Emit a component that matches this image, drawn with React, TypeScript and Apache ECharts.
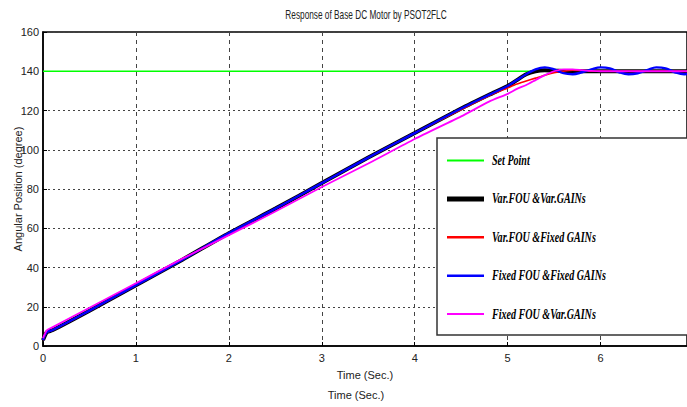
import React, { useEffect, useRef } from "react";
import * as echarts from "echarts";

const times = [0, 0.04, 0.1, 0.5, 1, 1.5, 2, 2.5, 3, 3.5, 4, 4.5, 4.8, 5, 5.1, 5.2, 5.3, 5.4, 5.5, 5.6, 5.7, 5.8, 5.9, 6.0, 6.1, 6.2, 6.3, 6.4, 6.5, 6.6, 6.7, 6.8, 6.9, 7.0];
const setPoint = times.map(() => 140);
const varFouVarGains = [3, 7, 8, 18, 31, 44, 57.5, 70, 83, 96, 108.5, 121, 128, 132.5, 135.5, 138.5, 140, 140.5, 140.3, 140.1, 140, 140, 140, 140, 140, 140, 140, 140, 140, 140, 140, 140, 140, 140];
const varFouFixedGains = [3, 7, 8, 18, 31, 44, 57.5, 70, 83, 96, 108.5, 120.5, 127.5, 131.5, 133.5, 135, 136.5, 138, 139.2, 140, 140.5, 140.3, 140, 140, 140, 140, 140, 140, 140, 140, 140, 140, 140, 140];
const fixedFouFixedGains = [3, 7, 8, 18, 31, 44, 57.5, 70, 83, 96, 108.5, 121, 128, 132.5, 135.5, 138.5, 141, 142, 141, 139, 138.5, 139.5, 141, 142, 141.5, 139.5, 138.5, 139, 140.5, 142, 141.5, 139.5, 138.5, 139];
const fixedFouVarGains = [4, 8, 9.5, 19.5, 32, 44.5, 56.5, 68.5, 81, 93, 105.5, 117, 124.5, 128.5, 131, 133, 135.5, 138, 140, 141, 141, 140.6, 140.2, 140, 140, 140, 140, 140, 140, 140, 140, 140, 140, 140];

const seriesNames = ["Set Point", "Var.FOU &Var.GAINs", "Var.FOU &Fixed GAINs", "Fixed FOU &Fixed GAINs", "Fixed FOU &Var.GAINs"];
const seriesValues = [setPoint, varFouVarGains, varFouFixedGains, fixedFouFixedGains, fixedFouVarGains];
const seriesColors = ["#00ff00", "#000000", "#ff0000", "#0000ff", "#ff00ff"];
const seriesWidths = [1.6, 4, 1.6, 2.4, 1.8];
const legendWidths = [2, 5, 2.5, 2.5, 2];

const sans = "'Liberation Sans', Arial, sans-serif";
const serif = "'Liberation Serif', 'Times New Roman', serif";

export default function App() {
  const ref = useRef<HTMLDivElement>(null);
  useEffect(() => {
    document.body.style.margin = "0";
    const chart = echarts.init(ref.current!, null, { renderer: "svg" });
    const legendTop = 160.5;
    const legendStep = 38.4;
    const legendGraphics: any[] = [];
    seriesNames.forEach((n, i) => {
      const y = legendTop + i * legendStep;
      legendGraphics.push({
        type: "line",
        z: 11,
        shape: { x1: 447, y1: y, x2: 484, y2: y },
        style: { stroke: seriesColors[i], lineWidth: legendWidths[i] },
      });
      legendGraphics.push({
        type: "text",
        z: 11,
        x: 492,
        y: y,
        scaleX: 0.72,
        style: { text: n, fontFamily: serif, fontStyle: "italic", fontWeight: "bold", fontSize: 14, fill: "#000", align: "left", verticalAlign: "middle" },
      });
    });
    chart.setOption({
      animation: false,
      backgroundColor: "#ffffff",
      grid: { left: 43, right: 0, top: 32, bottom: 61, show: true, borderColor: "#000", borderWidth: 1.5, outerBoundsMode: "none", containLabel: false },
      xAxis: {
        type: "value",
        min: 0,
        max: 6.93,
        interval: 1,
        name: "Time (Sec.)",
        nameLocation: "middle",
        nameGap: 23,
        nameMoveOverlap: false,
        nameTextStyle: { fontFamily: sans, fontSize: 11, color: "#222" },
        axisLine: { lineStyle: { color: "#000", width: 1.5 } },
        axisTick: { inside: true, length: 4, lineStyle: { color: "#000" } },
        axisLabel: { fontFamily: sans, fontSize: 11, color: "#222", margin: 6, showMaxLabel: false },
        splitLine: { show: true, lineStyle: { color: "#444", type: [4, 4], width: 1 } },
      },
      yAxis: {
        type: "value",
        min: 0,
        max: 160,
        interval: 20,
        name: "Angular Position (degree)",
        nameLocation: "middle",
        nameGap: 20,
        nameMoveOverlap: false,
        nameTextStyle: { fontFamily: sans, fontSize: 11, color: "#222" },
        axisLine: { show: true, lineStyle: { color: "#000", width: 1.5 } },
        axisTick: { inside: true, length: 4, lineStyle: { color: "#000" } },
        axisLabel: { fontFamily: sans, fontSize: 11, color: "#222", margin: 4 },
        splitLine: { show: true, lineStyle: { color: "#444", type: [2, 3], width: 1 } },
      },
      graphic: [
        {
          type: "text",
          z: 10,
          x: 366,
          y: 15,
          scaleX: 0.69,
          style: { text: "Response of Base DC Motor by PSOT2FLC", fontFamily: sans, fontSize: 12, fill: "#222", align: "center", verticalAlign: "middle" },
        },
        {
          type: "rect",
          z: 10,
          shape: { x: 437, y: 138, width: 255, height: 197 },
          style: { fill: "#fff", stroke: "#333", lineWidth: 1.5 },
        },
        ...legendGraphics,
        {
          type: "text",
          z: 10,
          x: 356,
          y: 395,
          style: { text: "Time (Sec.)", fontFamily: sans, fontSize: 11, fill: "#222", align: "center", verticalAlign: "middle" },
        },
      ],
      series: seriesNames.map((n, i) => ({
        name: n,
        type: "line",
        data: times.map((t, j) => [t, seriesValues[i][j]]),
        showSymbol: false,
        symbol: "none",
        smooth: i === 3 ? 0.4 : 0.2,
        lineStyle: { color: seriesColors[i], width: seriesWidths[i] },
        itemStyle: { color: seriesColors[i] },
        z: 2 + i,
      })),
    });
    return () => chart.dispose();
  }, []);
  return <div ref={ref} style={{ width: 687, height: 407 }} />;
}
